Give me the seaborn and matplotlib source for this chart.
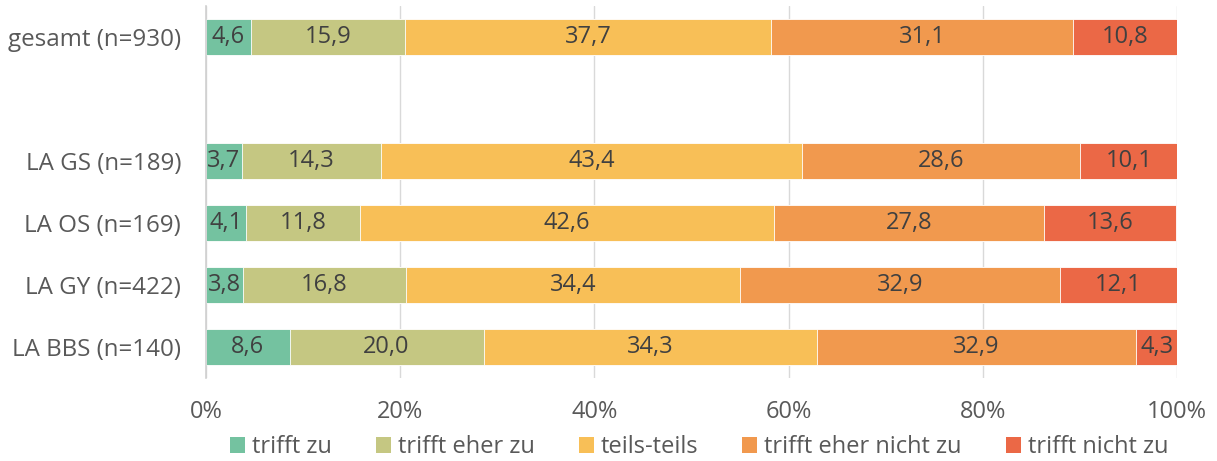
import numpy as np
import pandas as pd
import matplotlib
matplotlib.use("Agg")
import matplotlib.pyplot as plt
from matplotlib.patches import Patch
import seaborn as sns

groups = ["gesamt (n=930)", " ", "LA GS (n=189)", "LA OS (n=169)", "LA GY (n=422)", "LA BBS (n=140)"]
answers = ["trifft zu", "trifft eher zu", "teils-teils", "trifft eher nicht zu", "trifft nicht zu"]
trifft_zu = [4.6, np.nan, 3.7, 4.1, 3.8, 8.6]
trifft_eher_zu = [15.9, np.nan, 14.3, 11.8, 16.8, 20.0]
teils_teils = [37.7, np.nan, 43.4, 42.6, 34.4, 34.3]
eher_nicht_zu = [31.1, np.nan, 28.6, 27.8, 32.9, 32.9]
nicht_zu = [10.8, np.nan, 10.1, 13.6, 12.1, 4.3]
colors = ["#74C2A0", "#C5C782", "#F8BF57", "#F1994E", "#EB6846"]

sns.set_theme(style="white")
plt.rcParams["font.family"] = ["Open Sans", "DejaVu Sans"]

df = pd.DataFrame({"group": groups})
series = [trifft_zu, trifft_eher_zu, teils_teils, eher_nicht_zu, nicht_zu]
for name, vals in zip(answers, series):
    df[name] = vals
cum = df[answers].cumsum(axis=1)

fig = plt.figure(figsize=(12.17, 4.61), dpi=100)
ax = fig.add_axes([206 / 1217, 1 - 378 / 461, (1177 - 206) / 1217, 372 / 461])

# stacked bars: draw cumulative totals from the outermost layer inwards
for i in range(len(answers) - 1, -1, -1):
    sns.barplot(data=cum.assign(group=df["group"]), y="group", x=answers[i], order=groups,
                color=colors[i], saturation=1, width=0.58, orient="h",
                edgecolor="white", linewidth=0.6, ax=ax, zorder=2)

# value labels in the segment centres
for r, g in enumerate(groups):
    for i, name in enumerate(answers):
        v = df.loc[r, name]
        if np.isnan(v):
            continue
        xc = cum.loc[r, name] - v / 2
        ax.text(xc, r, f"{v:.1f}".replace(".", ","), ha="center", va="center",
                fontsize=17, color="#404040", zorder=3)

ax.set_xlim(0, 100)
ax.set_ylim(5.5, -0.5)
ax.set_xticks(np.arange(0, 101, 20))
ax.set_xticklabels([f"{t}%" for t in range(0, 101, 20)])
ax.xaxis.grid(True, color="#D9D9D9", linewidth=1, zorder=0)
ax.set_axisbelow(True)
ax.set_xlabel("")
ax.set_ylabel("")
for s in ["top", "right", "bottom"]:
    ax.spines[s].set_visible(False)
ax.spines["left"].set_color("#D0D0D0")
ax.spines["left"].set_linewidth(1.2)
ax.tick_params(axis="both", length=0, labelsize=17, colors="#595959")
ax.tick_params(axis="y", labelsize=17.4, pad=18)
ax.tick_params(axis="x", pad=16)

handles = [Patch(facecolor=c, edgecolor="none") for c in colors]
fig.legend(handles, answers, loc="center", bbox_to_anchor=(0.5745, 14 / 461), ncol=5,
           frameon=False, fontsize=17, handlelength=0.64, handleheight=0.64,
           handletextpad=0.3, columnspacing=1.85, labelcolor="#595959",
           borderpad=0, borderaxespad=0)

fig.savefig("out.png", dpi=100)
